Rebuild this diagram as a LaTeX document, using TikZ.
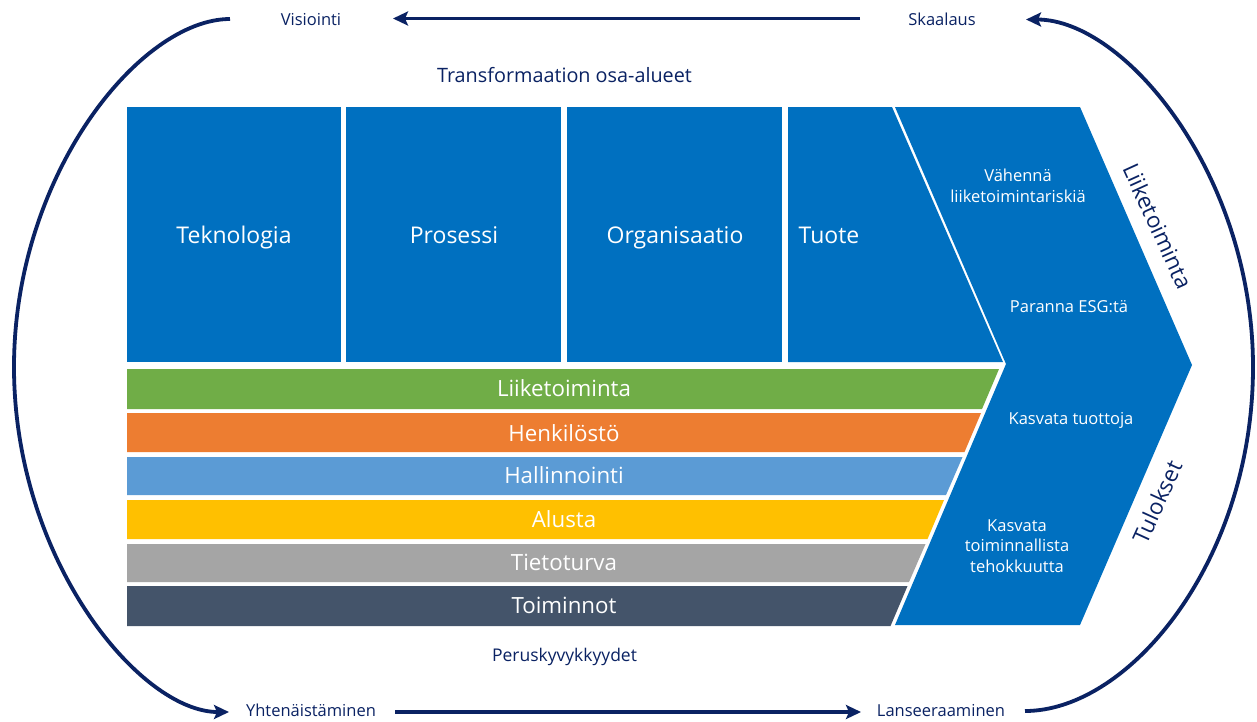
\documentclass[tikz,border=0pt]{standalone}
\usepackage{fontspec}
\setmainfont{Open Sans}
\usetikzlibrary{arrows.meta}
\definecolor{navy}{HTML}{0A2263}
\definecolor{boxblue}{HTML}{0070C0}
\definecolor{cgreen}{HTML}{70AD47}
\definecolor{corange}{HTML}{ED7D31}
\definecolor{clblue}{HTML}{5B9BD5}
\definecolor{cyellow}{HTML}{FFC000}
\definecolor{cgray}{HTML}{A5A5A5}
\definecolor{cdark}{HTML}{44546A}
\begin{document}
\begin{tikzpicture}[x=1pt,y=-1pt,
  navyline/.style={draw=navy, line width=3.8pt},
  arr/.style={navyline, -{Stealth[length=15pt,width=14pt,inset=3pt]}},
  lbl/.style={text=navy, font=\fontsize{16.5}{20}\selectfont, inner sep=0pt, anchor=base},
  boxlbl/.style={text=white, font=\fontsize{23}{27}\selectfont, inner sep=0pt, anchor=base},
  barlbl/.style={text=white, font=\fontsize{22.3}{26}\selectfont, inner sep=0pt, anchor=base},
  chevlbl/.style={text=white, font=\fontsize{16.5}{20.5}\selectfont, inner sep=0pt, align=center},
  sidelbl/.style={text=navy, font=\fontsize{22.5}{27}\selectfont, inner sep=0pt},
]
\useasboundingbox[fill=white] (0,0) rectangle (1257,721);

% top blue boxes
\fill[boxblue] (127,107) rectangle (341,362);
\fill[boxblue] (346,107) rectangle (561,362);
\fill[boxblue] (567,107) rectangle (782,362);
\fill[boxblue] (788,107) -- (892,107) -- (1003,362) -- (788,362) -- cycle;
% chevron
\fill[boxblue] (895,107) -- (1080,107) -- (1192,365) -- (1080,625) -- (895,625) -- (1006,364) -- cycle;
% bars
\fill[cgreen]  (127,369) -- (999,369) -- (982,409) -- (127,409) -- cycle;
\fill[corange] (127,413) -- (981,413) -- (964.5,452) -- (127,452) -- cycle;
\fill[clblue]  (127,457) -- (962.5,457) -- (946,495) -- (127,495) -- cycle;
\fill[cyellow] (127,500) -- (944,500) -- (927.5,539) -- (127,539) -- cycle;
\fill[cgray]   (127,544) -- (925.5,544) -- (909,582) -- (127,582) -- cycle;
\fill[cdark]   (127,586) -- (907.5,586) -- (890.5,626) -- (127,626) -- cycle;

% box labels
\node[boxlbl] (tek) at (234,243) {Teknologia};
\node[boxlbl] (pro) at (454,243) {Prosessi};
\node[boxlbl] (org) at (675,243) {Organisaatio};
\node[boxlbl] (tuo) at (829,243) {Tuote};

% bar labels
\node[barlbl] (b1) at (564,396) {Liiketoiminta};
\node[barlbl] (b2) at (564,441) {Henkilöstö};
\node[barlbl] (b3) at (564,483) {Hallinnointi};
\node[barlbl] (b4) at (564,527) {Alusta};
\node[barlbl] (b5) at (564,570) {Tietoturva};
\node[barlbl] (b6) at (564,613) {Toiminnot};

% chevron labels
\node[chevlbl] (c1) at (1018,186) {Vähennä\\liiketoimintariskiä};
\node[chevlbl] (c2) at (1069,307) {Paranna ESG:tä};
\node[chevlbl] (c3) at (1071,420) {Kasvata tuottoja};
\node[chevlbl] (c4) at (1017,546) {Kasvata\\toiminnallista\\tehokkuutta};

% side labels
\node[sidelbl, rotate=-65.5] (liik) at (1158,226) {Liiketoiminta};
\node[sidelbl, rotate=65.5] (tul) at (1157,502) {Tulokset};

% titles
\node[lbl, font=\fontsize{19.8}{24}\selectfont] (title) at (564.5,82) {Transformaation osa-alueet};
\node[lbl, font=\fontsize{17.5}{21}\selectfont] (perus) at (564.5,661) {Peruskyvykkyydet};

% cycle labels
\node[lbl] (vis) at (311,25) {Visiointi};
\node[lbl] (ska) at (942,25) {Skaalaus};
\node[lbl] (yht) at (311,716) {Yhtenäistäminen};
\node[lbl] (lan) at (941,716) {Lanseeraaminen};

% arrows
\coordinate (topR) at (860,18.5);
\coordinate (topL) at (393,18.5);
\coordinate (botL) at (395,712);
\coordinate (botR) at (861,712);
\draw[arr] (topR) -- (topL);
\draw[arr] (botL) -- (botR);

\coordinate (la1) at (230,19);
\coordinate (la2) at (229,712);
\draw[arr] (la1) .. controls (140,19) and (14,175) .. (14,367) .. controls (14,560) and (140,712) .. (la2);

\coordinate (ra1) at (1025,711);
\coordinate (ra2) at (1026,19.5);
\draw[arr] (ra1) .. controls (1130,711) and (1253,560) .. (1253,367) .. controls (1253,175) and (1125,19.5) .. (ra2);
\end{tikzpicture}
\end{document}
